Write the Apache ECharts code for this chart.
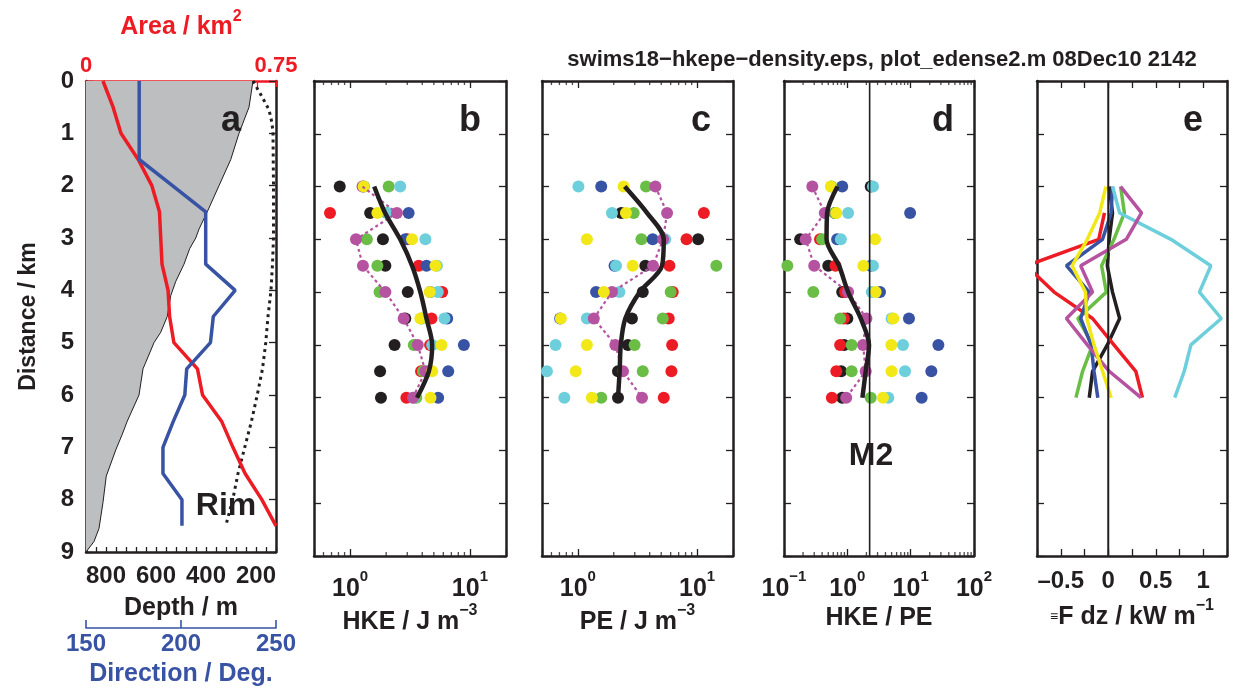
<!DOCTYPE html>
<html><head><meta charset="utf-8">
<script src="https://cdn.jsdelivr.net/npm/echarts@6.0.0/dist/echarts.min.js"></script>
<style>html,body{margin:0;padding:0;background:#fff}#c{width:1233px;height:692px}</style>
</head><body><div id="c"></div>
<script>
// ---------------- DATA ----------------
// Panel a
const aDist   = [0,0.5,1,1.5,2,2.5,3,3.5,4,4.5,5,5.5,6,6.5,7,7.5,8,8.5];
const areaKm2 = [0.067,0.107,0.138,0.206,0.26,0.29,0.295,0.3,0.324,0.33,0.347,0.44,0.46,0.535,0.58,0.628,0.694,0.75];
const dirDeg  = [178,178,178,178,195.5,213,213,213,228.5,217,215.5,203,202,196,190.5,190.5,200.5,200.5];
const bathyDist  = [0,0.5,1,1.5,2,2.5,2.83,3,3.2,3.5,3.83,4.1,4.5,4.8,5,5.5,6,6.5,6.75,7.05,7.55,8.05,8.55,8.8,9];
const bathyDepth = [212,228,268,301,348,395,428,441,465,488,521,541,555,581,608,652,668,715,735,761,799,812,828,848,880];
const rimDist  = [0,0.3,0.55,0.8,1,2,3,3.5,4,4.5,5,5.5,6,6.5,7,7.5,8,8.5];
const rimDepth = [212,176,148,136,132,130,130,134,140,152,161,174,195,218,245,272,293,321];
const depthTicks = [200,400,600,800];

// Panels b-e: stations along distance
const rows = [2,2.5,3,3.5,4,4.5,5,5.5,6];
// HKE / J m^-3
const hkeBlack   = [0.82,1.47,1.88,1.97,3.03,2.89,2.35,1.78,1.81];
const hkeRed     = [null,0.68,3.0,3.74,5.87,4.78,4.65,3.91,2.95];
const hkeGreen   = [2.1,2.03,1.38,1.69,1.76,3.95,3.4,4.06,3.57];
const hkeBlue    = [1.3,3.08,2.89,4.34,4.66,6.46,8.9,6.59,5.43];
const hkeCyan    = [2.62,2.06,4.25,5.3,5.4,6.13,4.84,4.45,3.4];
const hkeMagenta = [1.27,2.46,1.12,1.28,1.97,2.8,3.67,4.25,3.35];
const hkeYellow  = [1.3,1.69,3.29,5.16,4.62,3.86,5.79,4.84,4.69];
const hkeMean    = [1.59,1.96,2.62,3.29,3.86,4.34,4.84,4.54,3.62];
// PE / J m^-3
const peBlack   = [null,2.31,10.2,3.68,3.5,2.84,2.63,2.17,2.17];
const peRed     = [null,11.4,8.15,5.86,6.25,5.78,6.17,6.09,5.25];
const peGreen   = [3.73,2.94,3.41,14.5,6.0,5.15,2.99,3.5,1.57];
const peBlue    = [1.57,null,4.24,2.03,1.42,0.71,null,null,null];
const peCyan    = [1.01,1.93,5.4,2.09,2.23,1.19,0.65,0.55,0.77];
const peMagenta = [4.47,5.6,5.18,4.27,1.93,1.36,2.06,2.39,3.45];
const peYellow  = [2.42,2.53,1.19,2.88,1.65,0.72,1.19,0.96,1.31];
const peMean    = [2.47,3.8,5.25,5.08,3.3,2.5,2.29,2.24,2.17];
// HKE / PE
const rBlack   = [2.34,0.64,0.18,0.5,0.83,1.0,0.89,0.8,0.83];
const rRed     = [null,null,0.37,0.65,0.92,0.88,0.77,0.67,0.57];
const rGreen   = [0.56,0.64,0.4,0.113,0.29,0.77,1.17,1.17,2.34];
const rBlue    = [0.83,9.8,0.69,2.34,3.28,9.4,27.4,21.2,14.9];
const rCyan    = [2.54,1.03,0.79,2.54,2.43,5.0,7.57,8.15,4.44];
const rMagenta = [0.28,0.44,0.22,0.3,1.03,2.0,1.77,1.95,0.96];
const rYellow  = [0.55,0.67,2.74,1.79,2.8,5.3,4.95,5.0,3.66];
const rMean    = [0.7,0.48,0.47,0.74,1.03,1.63,2.2,1.95,1.73];
const m2Ratio  = 2.25;
// integral F dz / kW m^-1
const fBlack   = [0.01,0.045,0.01,-0.01,0.045,0.12,-0.01,-0.165,-0.2];
const fRed     = [null,-0.04,-0.1,-0.86,-0.57,-0.165,0.06,0.29,0.36];
const fGreen   = [0.13,0.17,0.06,-0.07,-0.02,-0.32,-0.165,-0.27,-0.34];
const fBlue    = [0.045,0.03,-0.06,-0.44,-0.2,-0.29,-0.18,-0.15,-0.11];
const fCyan    = [0.045,0.12,0.66,1.08,0.96,1.19,0.87,0.8,0.7];
const fMagenta = [0.13,0.35,0.19,-0.29,-0.165,-0.44,-0.22,0.01,0.345];
const fYellow  = [-0.025,-0.09,-0.22,-0.38,-0.24,-0.225,-0.15,-0.06,0.03];
const fluxZero = 0;
// minor log tick values
const minorTicksBC = [0.6,0.7,0.8,0.9,2,3,4,5,6,7,8,9];
const minorTicksD  = [0.2,0.3,0.4,0.5,0.6,0.7,0.8,0.9,2,3,4,5,6,7,8,9,20,30,40,50,60,70,80,90];

// ---------------- STYLE ----------------
const FONT = "'Liberation Sans', Arial, Helvetica, sans-serif";
const INK = '#231f20';
const COL = {black:'#231f20', red:'#ed1c24', green:'#6abd45', blue:'#3953a4', cyan:'#6dcfdc', magenta:'#b553a1', yellow:'#f2e817'};
const ORDER = ['black','red','green','blue','cyan','magenta','yellow'];
function txt(size, color){ return {fontFamily:FONT, fontWeight:'bold', fontSize:size, color:color||INK}; }
const tickRich = {
  b: Object.assign(txt(25), {lineHeight:40}),
  s: Object.assign(txt(15), {lineHeight:15, verticalAlign:'top'})
};
const nameRich = {
  n: Object.assign(txt(25), {lineHeight:38}),
  s: Object.assign(txt(16), {lineHeight:16, verticalAlign:'top'}),
  e: Object.assign(txt(14), {lineHeight:14, verticalAlign:'middle'})
};
function powLabel(v){
  const l = Math.log10(v), e = Math.round(l);
  if (Math.abs(l - e) > 1e-6) return '';
  return '{b|10}{s|' + (e < 0 ? '\u2212' + (-e) : e) + '}';
}
function pts(vals){ return vals.map((v,i)=> v==null ? null : [v, rows[i]]).filter(Boolean); }

const H = 475, TOP = 81;
const grids = [
  {left:86,  top:TOP, width:190, height:H},
  {left:314, top:TOP, width:192, height:H},
  {left:542, top:TOP, width:191, height:H},
  {left:784, top:TOP, width:190, height:H},
  {left:1037,top:TOP, width:190, height:H}
];

function frame(gridIndex, position, extra){
  return Object.assign({
    gridIndex, position, nameMoveOverlap:false,
    axisLine:{show:true, onZero:false, lineStyle:{color:INK, width:2.5}},
    axisTick:{show:true, inside:true, length:7, lineStyle:{color:INK, width:1.3}},
    axisLabel:{show:false}, splitLine:{show:false}
  }, extra);
}

// y axes
const yAxis = [];
for (let g = 0; g < 5; g++) {
  const left = frame(g, 'left', {type:'value', inverse:true, min:0, max:9, interval:1});
  if (g === 0) {
    left.axisLabel = Object.assign({show:true, margin:12}, txt(24));
    left.name = 'Distance / km';
    left.nameLocation = 'middle';
    left.nameGap = 46;
    left.nameTextStyle = txt(23);
  }
  yAxis.push(left);
  yAxis.push(frame(g, 'right', {type:'value', inverse:true, min:0, max:9, interval:1}));
}

// x axes
const nameStyle = {rich: nameRich};
const xAxis = [
  // 0 depth
  frame(0, 'bottom', {type:'value', inverse:true, min:120, max:880, interval:40,
    axisTick:{show:true, inside:true, length:5, lineStyle:{color:INK, width:1.3}},
    axisLabel:Object.assign({show:true, margin:12, formatter:v=> depthTicks.indexOf(v) >= 0 ? String(v) : ''}, txt(24)),
    name:'Depth / m', nameLocation:'middle', nameGap:44, nameTextStyle:txt(25)}),
  // 1 area (top, red)
  frame(0, 'top', {type:'value', min:0, max:0.75, interval:0.075,
    axisLine:{show:true, onZero:false, lineStyle:{color:COL.red, width:2.5}},
    axisTick:{show:true, inside:true, length:6, lineStyle:{color:COL.red, width:1.3}},
    axisLabel:Object.assign({show:true, margin:4, formatter:v=> v === 0 ? '0' : (Math.abs(v-0.75) < 1e-9 ? '0.75' : '')}, txt(22, COL.red)),
    name:'{n|Area / km}{s|2}', nameLocation:'middle', nameGap:36,
    nameTextStyle:{rich:{n:Object.assign(txt(25, COL.red), {lineHeight:36}), s:Object.assign(txt(16, COL.red), {lineHeight:16, verticalAlign:'top'})}}}),
  // 2 direction (blue)
  frame(0, 'bottom', {type:'value', offset:76, min:150, max:250, interval:50,
    axisLine:{show:true, onZero:false, lineStyle:{color:COL.blue, width:1.6}},
    axisTick:{show:true, inside:true, length:8, lineStyle:{color:COL.blue, width:1.6}},
    axisLabel:Object.assign({show:true, margin:4}, txt(24, COL.blue)),
    name:'Direction / Deg.', nameLocation:'middle', nameGap:34, nameTextStyle:txt(25, COL.blue)}),
  // 3,4 HKE
  frame(1, 'bottom', {type:'log', logBase:10, min:0.5, max:20,
    axisLabel:{show:true, margin:13, formatter:powLabel, rich:tickRich},
    name:'{n|HKE / J m}{s|\u22123}', nameLocation:'middle', nameGap:47, nameTextStyle:nameStyle}),
  frame(1, 'top', {type:'log', logBase:10, min:0.5, max:20}),
  // 5,6 PE
  frame(2, 'bottom', {type:'log', logBase:10, min:0.5, max:20,
    axisLabel:{show:true, margin:13, formatter:powLabel, rich:tickRich},
    name:'{n|PE / J m}{s|\u22123}', nameLocation:'middle', nameGap:47, nameTextStyle:nameStyle}),
  frame(2, 'top', {type:'log', logBase:10, min:0.5, max:20}),
  // 7,8 ratio
  frame(3, 'bottom', {type:'log', logBase:10, min:0.1, max:100,
    axisLabel:{show:true, margin:13, formatter:powLabel, rich:tickRich},
    name:'{n|HKE / PE}', nameLocation:'middle', nameGap:43, nameTextStyle:nameStyle}),
  frame(3, 'top', {type:'log', logBase:10, min:0.1, max:100}),
  // 9,10 flux
  frame(4, 'bottom', {type:'value', min:-0.75, max:1.25, interval:0.25,
    axisLabel:Object.assign({show:true, margin:13, formatter:v=>{
      const d = Math.round(v*4);
      if (d % 2 !== 0 || v < -0.6 || v > 1.1) return '';
      return v < 0 ? '\u2013' + String(-v) : String(v);
    }}, txt(24)),
    name:'{e|\u2261}{n|F dz / kW m}{s|\u22121}', nameLocation:'middle', nameGap:42, nameTextStyle:nameStyle}),
  frame(4, 'top', {type:'value', min:-0.75, max:1.25, interval:0.25})
];

// ---------------- SERIES ----------------
const series = [];
// panel a
series.push({
  type:'custom', xAxisIndex:0, yAxisIndex:0, silent:true, z:1,
  data: bathyDepth.map((d,i)=>[d, bathyDist[i]]),
  renderItem:(params, api)=>{
    if (params.dataIndex !== 0) return null;
    const p = bathyDepth.map((d,i)=>api.coord([d, bathyDist[i]]));
    p.push(api.coord([880, 9]));
    p.push(api.coord([880, 0]));
    return {type:'polygon', shape:{points:p}, style:{fill:'#bcbec0'}};
  }
});
series.push({type:'line', xAxisIndex:0, yAxisIndex:0, data:bathyDepth.map((d,i)=>[d, bathyDist[i]]),
  symbol:'none', lineStyle:{color:INK, width:1}, z:2, silent:true});
series.push({type:'line', xAxisIndex:0, yAxisIndex:0, data:rimDepth.map((d,i)=>[d, rimDist[i]]),
  symbol:'none', lineStyle:{color:INK, width:3, type:[3,4]}, z:3, silent:true});
series.push({type:'line', xAxisIndex:1, yAxisIndex:0, data:areaKm2.map((v,i)=>[v, aDist[i]]),
  symbol:'none', lineStyle:{color:COL.red, width:3.5}, z:4, silent:true});
series.push({type:'line', xAxisIndex:2, yAxisIndex:0, data:dirDeg.map((v,i)=>[v, aDist[i]]),
  symbol:'none', lineStyle:{color:COL.blue, width:3.5}, z:4, silent:true});

function dotPanel(xi, yi, sets, mean, minor){
  ORDER.forEach(k=>{
    series.push({type:'scatter', xAxisIndex:xi, yAxisIndex:yi, data:pts(sets[k]), symbol:'circle',
      symbolSize:12, itemStyle:{color:COL[k], opacity:1}, z:2, silent:true});
  });
  series.push({type:'line', xAxisIndex:xi, yAxisIndex:yi, data:pts(sets.magenta), symbol:'none',
    lineStyle:{color:COL.magenta, width:2.2, type:[3,3]}, z:3, silent:true});
  series.push({type:'line', xAxisIndex:xi, yAxisIndex:yi, data:pts(mean), symbol:'none', smooth:0.3,
    lineStyle:{color:INK, width:4.5}, z:4, silent:true});
  series.push({type:'scatter', xAxisIndex:xi, yAxisIndex:yi, data:minor.map(v=>[v,9]), symbol:'rect',
    symbolSize:[1.3,4], symbolOffset:[0,-2], itemStyle:{color:INK}, z:5, silent:true, clip:false});
  series.push({type:'scatter', xAxisIndex:xi, yAxisIndex:yi, data:minor.map(v=>[v,0]), symbol:'rect',
    symbolSize:[1.3,4], symbolOffset:[0,2], itemStyle:{color:INK}, z:5, silent:true, clip:false});
}
dotPanel(3, 2, {black:hkeBlack, red:hkeRed, green:hkeGreen, blue:hkeBlue, cyan:hkeCyan, magenta:hkeMagenta, yellow:hkeYellow}, hkeMean, minorTicksBC);
dotPanel(5, 4, {black:peBlack, red:peRed, green:peGreen, blue:peBlue, cyan:peCyan, magenta:peMagenta, yellow:peYellow}, peMean, minorTicksBC);
dotPanel(7, 6, {black:rBlack, red:rRed, green:rGreen, blue:rBlue, cyan:rCyan, magenta:rMagenta, yellow:rYellow}, rMean, minorTicksD);
series.push({type:'line', xAxisIndex:7, yAxisIndex:6, data:[[m2Ratio,0],[m2Ratio,9]], symbol:'none',
  lineStyle:{color:INK, width:1.6}, z:6, silent:true});

const fluxSets = {black:fBlack, red:fRed, green:fGreen, blue:fBlue, cyan:fCyan, magenta:fMagenta, yellow:fYellow};
ORDER.forEach(k=>{
  series.push({type:'line', xAxisIndex:9, yAxisIndex:8, data:pts(fluxSets[k]), symbol:'none',
    lineStyle:{color:COL[k], width:3.5}, z:3, silent:true});
});
series.push({type:'line', xAxisIndex:9, yAxisIndex:8, data:[[fluxZero,0],[fluxZero,9]], symbol:'none',
  lineStyle:{color:INK, width:2}, z:6, silent:true});

// ---------------- TEXT ----------------
function label(text, x, y, size){
  return {type:'text', x, y, z:10, style:{text, fill:INK, font:'bold ' + size + 'px ' + FONT, textAlign:'center', textVerticalAlign:'middle'}};
}
const graphic = [
  {type:'text', x:882, y:60, z:10, style:{text:'swims18\u2212hkepe\u2212density.eps, plot_edense2.m 08Dec10 2142',
    fill:INK, font:'bold 22px ' + FONT, textAlign:'center', textVerticalAlign:'middle'}},
  label('a', 231, 121, 36), label('b', 470, 121, 36), label('c', 701, 121, 36),
  label('d', 943, 121, 36), label('e', 1193, 121, 36),
  label('Rim', 226, 506, 32), label('M2', 871, 456, 32)
];

const chart = echarts.init(document.getElementById('c'), null, {renderer:'canvas'});
chart.setOption({animation:false, backgroundColor:'#fff', grid:grids, xAxis, yAxis, series, graphic});
</script></body></html>
